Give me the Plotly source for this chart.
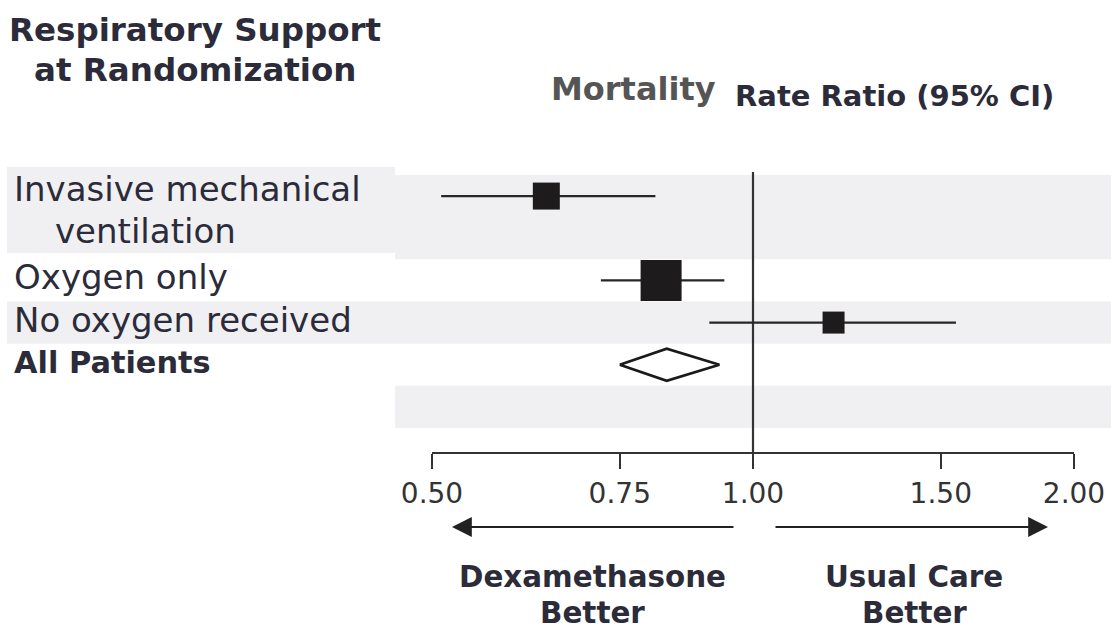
import plotly.graph_objects as go
import math

W, H = 1111, 629

# ---------------- data ----------------
groups = ["Invasive mechanical ventilation", "Oxygen only", "No oxygen received"]
group_est = [0.64, 0.82, 1.19]
group_lo = [0.51, 0.72, 0.91]
group_hi = [0.81, 0.94, 1.55]
group_row = [0.5, 2.5, 3.5]
marker_sizes = [27, 41, 22]

overall_label = "All Patients"
overall_est = 0.83
overall_lo = 0.75
overall_hi = 0.93
overall_row = 4.5

tick_vals = [0.5, 0.75, 1.0, 1.5, 2.0]
tick_text = ["0.50", "0.75", "1.00", "1.50", "2.00"]

# ---------------- helpers ----------------
def px(x):
    return x / W

def py(y):
    return 1 - y / H

TXT = "#2b2b3a"
FONT = "DejaVu Sans"

fig = go.Figure()

fig.add_trace(go.Scatter(
    x=group_est, y=group_row, mode="markers",
    marker=dict(size=1, color="rgba(0,0,0,0)"),
    error_x=dict(type="data", symmetric=False,
                 array=[h - e for h, e in zip(group_hi, group_est)],
                 arrayminus=[e - l for e, l in zip(group_est, group_lo)],
                 width=0, thickness=2.4, color="#262626"),
    showlegend=False, hoverinfo="skip",
))
fig.add_trace(go.Scatter(
    x=group_est, y=group_row, mode="markers", opacity=1,
    marker=dict(symbol="square", size=marker_sizes, color="#1e1b1c", opacity=1,
                line=dict(width=0)),
    showlegend=False, hoverinfo="skip",
))

hh = 0.38
fig.add_trace(go.Scatter(
    x=[overall_lo, overall_est, overall_hi, overall_est, overall_lo],
    y=[overall_row, overall_row - hh, overall_row, overall_row + hh, overall_row],
    mode="lines", fill="toself", fillcolor="white",
    line=dict(color="#1a1a1a", width=2.6),
    showlegend=False, hoverinfo="skip",
))

shapes = []
BAND = "#f0f0f3"
for (a, b) in [(0, 2), (3, 4), (5, 6)]:
    shapes.append(dict(type="rect", xref="paper", yref="y", x0=px(395), x1=1,
                       y0=a, y1=b, fillcolor=BAND, line=dict(width=0), layer="below"))
shapes.append(dict(type="rect", xref="paper", yref="paper", x0=px(7), x1=px(395),
                   y0=py(253), y1=py(167), fillcolor=BAND, line=dict(width=0), layer="below"))
shapes.append(dict(type="rect", xref="paper", yref="y", x0=px(7), x1=px(395),
                   y0=3, y1=4, fillcolor=BAND, line=dict(width=0), layer="below"))
shapes.append(dict(type="line", xref="x", yref="paper", x0=1.0, x1=1.0,
                   y0=py(453), y1=py(172), line=dict(color="#333333", width=2.2),
                   layer="below"))

annotations = []
annotations.append(dict(text="<b>Respiratory Support</b>", x=px(195), y=py(30), xref="paper", yref="paper",
                        xanchor="center", yanchor="middle", showarrow=False,
                        font=dict(family=FONT, size=32.5, color=TXT)))
annotations.append(dict(text="<b>at Randomization</b>", x=px(195), y=py(70), xref="paper", yref="paper",
                        xanchor="center", yanchor="middle", showarrow=False,
                        font=dict(family=FONT, size=32.5, color=TXT)))
annotations.append(dict(text="<b>Mortality</b>", x=px(718), y=py(89), xref="paper", yref="paper",
                        xanchor="right", yanchor="middle", showarrow=False,
                        font=dict(family=FONT, size=32, color="#555555")))
annotations.append(dict(text="<b>Rate Ratio (95% CI)</b>", x=px(733), y=py(96), xref="paper", yref="paper",
                        xanchor="left", yanchor="middle", showarrow=False,
                        font=dict(family=FONT, size=29, color=TXT)))

first_words = groups[0].split(" ")
annotations.append(dict(text=" ".join(first_words[:2]), x=px(12), y=py(189), xref="paper", yref="paper",
                        xanchor="left", yanchor="middle", showarrow=False,
                        font=dict(family=FONT, size=34, color=TXT)))
annotations.append(dict(text=first_words[2], x=px(53), y=py(231), xref="paper", yref="paper",
                        xanchor="left", yanchor="middle", showarrow=False,
                        font=dict(family=FONT, size=34, color=TXT)))
for lab, r in zip(groups[1:], group_row[1:]):
    annotations.append(dict(text=lab, x=px(12), y=r, xref="paper", yref="y",
                            xanchor="left", yanchor="middle", showarrow=False, yshift=3,
                            font=dict(family=FONT, size=34, color=TXT)))
annotations.append(dict(text="<b>" + overall_label + "</b>", x=px(12), y=overall_row, xref="paper", yref="y",
                        xanchor="left", yanchor="middle", showarrow=False, yshift=2,
                        font=dict(family=FONT, size=30.4, color=TXT)))

annotations.append(dict(text="", x=px(452), y=py(527), xref="paper", yref="paper",
                        ax=735 - 452, ay=0, showarrow=True, arrowhead=2, arrowsize=1.8,
                        arrowwidth=2.2, arrowcolor="#222222"))
annotations.append(dict(text="", x=px(1048), y=py(527), xref="paper", yref="paper",
                        ax=774 - 1048, ay=0, showarrow=True, arrowhead=2, arrowsize=1.8,
                        arrowwidth=2.2, arrowcolor="#222222"))

for txt, cx in [("Dexamethasone", 592), ("Usual Care", 914)]:
    annotations.append(dict(text="<b>" + txt + "</b>", x=px(cx), y=py(577), xref="paper", yref="paper",
                            xanchor="center", yanchor="middle", showarrow=False,
                            font=dict(family=FONT, size=29.4, color=TXT)))
    annotations.append(dict(text="<b>Better</b>", x=px(cx), y=py(613), xref="paper", yref="paper",
                            xanchor="center", yanchor="middle", showarrow=False,
                            font=dict(family=FONT, size=29.4, color=TXT)))

fig.update_layout(
    width=W, height=H, autosize=False,
    margin=dict(l=0, r=0, t=0, b=0, pad=0, autoexpand=False),
    paper_bgcolor="white", plot_bgcolor="rgba(0,0,0,0)",
    shapes=shapes, annotations=annotations,
    xaxis=dict(type="log", range=[math.log10(0.5), math.log10(2.0)],
               domain=[px(432), px(1074)], anchor="free", position=py(453),
               automargin=False,
               showline=True, linecolor="#333333", linewidth=2.2,
               ticks="outside", ticklen=15, tickwidth=2.2, tickcolor="#333333",
               tickvals=tick_vals, ticktext=tick_text,
               tickfont=dict(family=FONT, size=28, color="#333333"),
               showgrid=False, zeroline=False, fixedrange=True),
    yaxis=dict(domain=[py(428), py(175)], range=[6, 0], visible=False, automargin=False,
               showgrid=False, zeroline=False, fixedrange=True),
    showlegend=False,
)

fig.write_html("out.html", config={"responsive": False, "displayModeBar": False, "staticPlot": True},
               post_script="document.body.style.margin='0';document.body.style.overflow='hidden';")
